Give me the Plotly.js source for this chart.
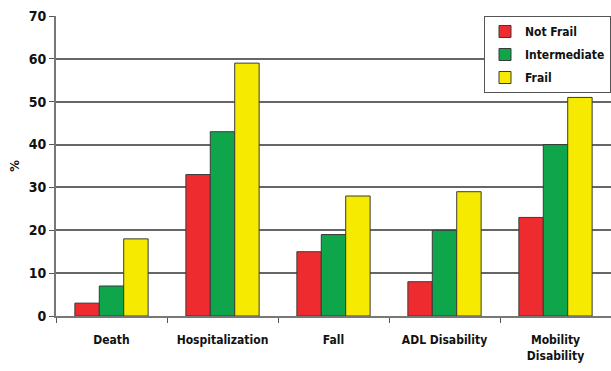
<!DOCTYPE html>
<html><head><meta charset="utf-8">
<script src="https://cdn.plot.ly/plotly-3.0.1.min.js"></script>
<style>html,body{margin:0;padding:0;background:#fff}#c{width:611px;height:371px}</style>
</head><body><div id="c"></div>
<script>
const categories = ["Death", "Hospitalization", "Fall", "ADL Disability", "Mobility<br>Disability"];
const notFrail = [3, 33, 15, 8, 23];
const intermediate = [7, 43, 19, 20, 40];
const frail = [18, 59, 28, 29, 51];
const yTicks = [0, 10, 20, 30, 40, 50, 60, 70];
const F = "'Liberation Sans Narrow', 'Arial Narrow', 'DejaVu Sans Condensed', sans-serif";
const line = {color: '#3a3a3a', width: 1};
const traces = [
  {type: 'bar', name: '<b>Not Frail</b>', legendgroup: 'a', x: categories, y: notFrail, marker: {color: '#EE2B2E', line}},
  {type: 'bar', name: '<b>Intermediate</b>', legendgroup: 'b', x: categories, y: intermediate, marker: {color: '#0FA54B', line}},
  {type: 'bar', name: '<b>Frail</b>', legendgroup: 'c', x: categories, y: frail, marker: {color: '#F6EA00', line}}
];
const layout = {
  width: 611, height: 371,
  margin: {l: 56, r: 0, t: 16, b: 55, pad: 0, autoexpand: false},
  paper_bgcolor: '#fff', plot_bgcolor: '#fff',
  barmode: 'group', bargap: 0.34, bargroupgap: 0,
  font: {family: F, size: 12, color: '#111'},
  xaxis: {
    type: 'category', showgrid: false, showline: true, linecolor: '#777', linewidth: 2,
    ticks: 'outside', tickson: 'boundaries', ticklen: 5, tickcolor: '#555',
    tickfont: {family: F, size: 12, color: '#111', weight: 'bold'}, ticklabelstandoff: 12
  },
  yaxis: {
    range: [0, 70], tickvals: yTicks, showgrid: true, gridcolor: '#666', gridwidth: 2,
    showline: true, linecolor: '#777', linewidth: 2, ticks: 'outside', ticklen: 5, tickcolor: '#555',
    zeroline: false, tickfont: {family: F, size: 14, color: '#111', weight: 'bold'},
    title: {text: '<b>%</b>', font: {family: F, size: 13, color: '#111'}, standoff: 6}
  },
  legend: {
    x: 1, y: 1, xanchor: 'right', yanchor: 'top', bgcolor: '#fff',
    bordercolor: '#555', borderwidth: 1, font: {family: F, size: 12, color: '#111'},
    traceorder: 'grouped', tracegroupgap: 4, itemwidth: 30
  },
  showlegend: true
};
Plotly.newPlot('c', traces, layout, {displayModeBar: false, staticPlot: true});
</script></body></html>
